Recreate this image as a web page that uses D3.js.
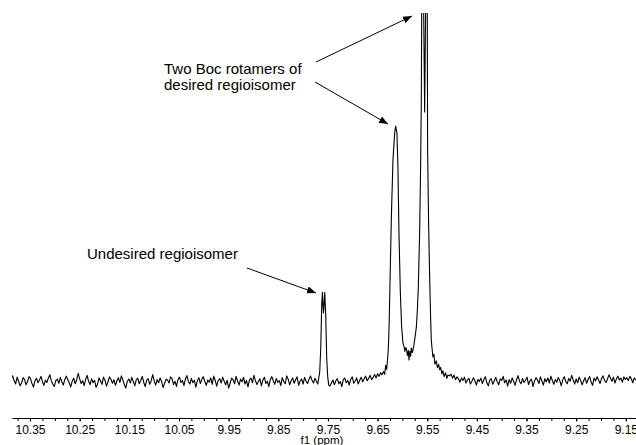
<!DOCTYPE html>
<html>
<head>
<meta charset="utf-8">
<script src="https://cdn.jsdelivr.net/npm/d3@7"></script>
<style>
  body { margin: 0; background: #fff; }
  svg { display: block; font-family: "Liberation Sans", Arial, Helvetica, sans-serif; }
</style>
</head>
<body>
<div id="spectrum"></div>
<script>
// chemical shift axis (ppm), labelled ticks
var majorTicks = [10.35, 10.25, 10.15, 10.05, 9.95, 9.85, 9.75, 9.65, 9.55, 9.45, 9.35, 9.25, 9.15];

var noiseStep = 0.003;
var noiseLeftStart = 10.388;
var noiseLeft = [
  1.2, 2.4, 0.6, -0.8, 1.9, 0.3, -1.5, -0.4, 1.7, 0.9,
  -1.1, 0.2, 2.1, 1.3, -0.6, -2.0, 0.5, 1.4, -0.3, 0.8,
  2.2, 0.1, -1.3, 0.7, -0.2, 1.6, 2.8, 0.4, -0.9, -1.7,
  0.6, 1.1, -0.5, 1.8, 0.2, -1.2, 0.9, 2.3, 1.0, -0.4,
  -1.9, 0.3, 1.5, -0.7, 0.8, 3.4, 1.2, -0.6, 0.5, -1.4,
  1.0, 2.6, 0.2, -1.0, 1.3, -0.3, 0.7, -2.1, -0.8, 1.6,
  0.4, -0.9, 1.9, 0.6, -1.6, 0.1, 2.0, 1.1, -0.5, 0.9,
  -1.3, 0.5, 1.7, -0.2, 2.4, 0.8, -1.1, -2.3, 0.3, 1.2,
  -0.4, 1.8, 0.2, -1.5, 0.9, 1.5, -0.7, 0.6, 2.2, -0.1,
  -1.8, 0.7, 1.3, -0.9, 0.4, 2.9, 0.5, -1.2, 1.0, -0.3,
  1.6, 0.2, -2.2, -0.6, 1.1, 0.8, -0.4, 2.0, 1.4, -1.0,
  0.3, -1.7, 0.9, 1.9, -0.2, 0.6, -1.4, 1.2, 2.5, 0.1,
  -0.8, 1.4, -0.3, 0.7, -2.0, 0.4, 1.7, -0.6, 1.0, 2.1,
  0.2, -1.3, 0.8, -0.1, 1.6, -0.9, 2.3, 0.6, -1.6, 0.5,
  1.3, -0.4, 1.9, 0.3, -1.1, 0.7, -2.4, -0.5, 1.5, 0.9,
  -0.7, 2.2, 0.4, -1.2, 1.1, 0.1, 1.8, -0.8, 0.6, -1.9,
  0.8, 1.5, -0.3, 2.6, 0.5, -1.0, 0.2, 1.3, -1.5, 0.7,
  1.9, -0.6, 0.3, -1.8, 1.0, 2.1, 0.4, -0.9, 1.4, -0.2,
  0.6, -1.4, 1.7, 0.2, -0.7, 2.4, 1.1, -1.1, 0.5, 1.6,
  -0.5, 0.9, 2.0, -1.3, 0.4, 1.2, -0.8, 1.8, 0.3, -0.6,
  1.1, 2.3, 0.7, -0.4, 1.5, 0.2
];
var noiseMidStart = 9.746;
var noiseMid = [
  -1.6, -0.4, 0.8, -1.1, 0.5, 1.3, -0.7, 0.2, -1.8, 0.9,
  1.5, -0.3, 0.6, -1.2, 1.1, 2.0, -0.5, 0.4, 1.6, -0.8,
  0.7, 1.9, 0.1, 1.2, 2.3, 0.5, 1.4, 2.6, 0.9, 1.8,
  2.9, 1.6, 3.2, 2.2, 3.6, 2.8, 4.1
];
var noiseRightStart = 9.505;
var noiseRight = [
  2.4, 3.1, 1.5, 2.7, 0.9, 2.0, 1.2, -0.1, 1.6, 0.6,
  1.9, -0.4, 0.8, 1.4, -0.8, 0.3, 1.7, 0.5, -1.2, 1.0,
  0.2, 1.5, -0.6, 0.9, 2.1, -0.2, -1.5, 0.7, 1.3, -0.9,
  0.4, 1.8, 0.1, -1.1, 1.2, 0.6, 2.2, -0.3, 0.8, -1.6,
  1.0, -0.5, 1.6, 0.3, -1.3, 0.9, 2.5, 0.2, -0.7, 1.4,
  -0.2, 0.7, 1.9, -1.0, 0.5, 1.1, -1.8, 0.3, 1.7, 0.8,
  -0.6, 2.0, 0.4, -1.2, 1.3, 0.1, 1.6, -0.4, 2.3, 0.6,
  -0.9, 1.0, -0.1, 1.8, 0.5, -1.5, 0.9, 2.1, 0.2, -0.7,
  1.4, 0.3, 2.6, 0.8, -0.8, 1.2, -0.3, 1.9, 0.6, -1.1,
  0.5, 1.7, -0.5, 1.0, 2.2, 0.1, -1.3, 1.5, 0.4, 2.0,
  0.9, -0.6, 1.3, 2.4, 0.7, -0.2, 1.1, 2.8, 1.6, 0.3,
  1.9, -0.4, 1.2, 2.3, 0.8, 1.5, -0.1, 2.0, 1.0, 1.7,
  0.6, 2.2, 1.3, -0.3, 1.6, 0.9, 1.4
];

// undesired regioisomer doublet near 9.76 ppm
var smallPpm = [9.7705, 9.7685, 9.7665, 9.7645, 9.7625, 9.7611, 9.7600, 9.7589, 9.7576, 9.7564, 9.7544, 9.7524, 9.7504, 9.7484];
var smallInt = [-0.8, 1.5, 4, 13, 30, 35, 30, 27, 31, 35, 26, 9, 2, -1.2];

// the two Boc rotamers, 9.61 ppm and the doublet at 9.56/9.55 ppm
var bigPpm = [
  9.6357, 9.6337, 9.6317, 9.6297, 9.6281, 9.6265, 9.6250, 9.6222, 9.6190, 9.6156,
  9.6136, 9.6110, 9.6090, 9.6069, 9.6041, 9.6015, 9.5989, 9.5970, 9.5950, 9.5932,
  9.5915, 9.5900, 9.5880, 9.5868, 9.5850, 9.5835, 9.5820, 9.5800, 9.5774, 9.5745,
  9.5719, 9.5699, 9.5679, 9.5653, 9.5633, 9.5619, 9.5599, 9.5552, 9.5506, 9.5492,
  9.5472, 9.5450, 9.5430, 9.5418, 9.5400, 9.5385, 9.5365, 9.5345, 9.5317, 9.5295,
  9.5270, 9.5251, 9.5230, 9.5205, 9.5184, 9.5160, 9.5130, 9.5105, 9.5084
];
var bigInt = [
  3.0, 6.5, 4.9, 9.2, 14, 24, 38.7, 64.5, 86.7, 97.3,
  100, 97.3, 84, 58.2, 34.8, 21.5, 15.2, 14.1, 12.0, 13.5,
  12.6, 10.4, 12.3, 8.6, 12.0, 10.0, 13.3, 11.5, 13.7, 17.5,
  21.5, 28, 37.1, 58.2, 84, 110, 200, 105.5, 200, 90.6,
  62, 40, 24, 16.4, 12.5, 9.8, 10.8, 7.0, 8.2, 5.6,
  6.9, 4.8, 5.7, 3.2, 4.4, 2.1, 3.6, 1.4, 2.7
];

// annotations
var labels = [
  {lines: ["Two Boc rotamers of", "desired regioisomer"], x: 164, y: 74},
  {lines: ["Undesired regioisomer"], x: 87, y: 259}
];
var arrows = [
  {from: [316, 62], to: [412, 16]},
  {from: [315, 82], to: [388, 124]},
  {from: [247, 268], to: [316, 293]}
];

var width = 636, height = 445;

var svg = d3.select("#spectrum")
  .append("svg")
    .attr("width", width)
    .attr("height", height);

var x = d3.scaleLinear()
  .domain([10.3863, 9.1295])
  .range([12, 636]);

var y = d3.scaleLinear()
  .domain([0, 100])
  .range([382, 126]);

// build the trace from the pieces
function noisePoints(start, vals) {
  return vals.map(function(v, i) { return [start - i * noiseStep, v]; });
}
var trace = []
  .concat(noisePoints(noiseLeftStart, noiseLeft))
  .concat(smallPpm.map(function(p, i) { return [p, smallInt[i]]; }))
  .concat(noisePoints(noiseMidStart, noiseMid))
  .concat(bigPpm.map(function(p, i) { return [p, bigInt[i]]; }))
  .concat(noisePoints(noiseRightStart, noiseRight));

svg.append("defs").append("clipPath")
    .attr("id", "plotclip")
  .append("rect")
    .attr("x", 12)
    .attr("y", 13)
    .attr("width", 624)
    .attr("height", 400);

svg.append("path")
    .datum(trace)
    .attr("clip-path", "url(#plotclip)")
    .attr("fill", "none")
    .attr("stroke", "#000")
    .attr("stroke-width", 1.1)
    .attr("stroke-linejoin", "round")
    .attr("d", d3.line()
      .x(function(d) { return x(d[0]); })
      .y(function(d) { return y(d[1]); }));

// minor ticks every 0.025 ppm
var minorTicks = d3.range(0, 51).map(function(i) { return +(10.375 - i * 0.025).toFixed(3); })
  .filter(function(v) { return v >= 9.131; });

var axisY = 418;
svg.append("g")
    .attr("transform", "translate(0," + axisY + ")")
    .call(d3.axisBottom(x).tickValues(minorTicks).tickSize(3).tickSizeOuter(0).tickFormat(""))
    .call(function(g) { g.selectAll("line").attr("stroke", "#000"); g.select(".domain").attr("stroke", "#000"); });

svg.append("g")
    .attr("transform", "translate(0," + axisY + ")")
    .call(d3.axisBottom(x).tickValues(majorTicks).tickSize(3.5).tickSizeOuter(0).tickPadding(4)
      .tickFormat(d3.format(".2f")))
    .call(function(g) {
      g.select(".domain").remove();
      g.selectAll("line").attr("stroke", "#000");
      g.selectAll("text")
        .attr("fill", "#000")
        .style("font-family", "'Liberation Sans', Arial, Helvetica, sans-serif")
        .style("font-size", "12px");
    });

svg.append("text")
    .attr("x", 322)
    .attr("y", 444)
    .attr("text-anchor", "middle")
    .style("font-size", "11.5px")
    .text("f1 (ppm)");

// annotation text
labels.forEach(function(l) {
  l.lines.forEach(function(t, i) {
    svg.append("text")
        .attr("x", l.x)
        .attr("y", l.y + i * 16)
        .style("font-size", "15px")
        .attr("fill", "#000")
        .text(t);
  });
});

// arrows with filled heads
svg.select("defs").append("marker")
    .attr("id", "head")
    .attr("viewBox", "0 0 10 10")
    .attr("refX", 10)
    .attr("refY", 5)
    .attr("markerWidth", 9)
    .attr("markerHeight", 9)
    .attr("markerUnits", "userSpaceOnUse")
    .attr("orient", "auto")
  .append("path")
    .attr("d", "M0,1 L10,5 L0,9 Z")
    .attr("fill", "#000");

svg.selectAll(".arrow")
  .data(arrows)
  .enter().append("line")
    .attr("class", "arrow")
    .attr("x1", function(d) { return d.from[0]; })
    .attr("y1", function(d) { return d.from[1]; })
    .attr("x2", function(d) { return d.to[0]; })
    .attr("y2", function(d) { return d.to[1]; })
    .attr("stroke", "#000")
    .attr("stroke-width", 1)
    .attr("marker-end", "url(#head)");
</script>
</body>
</html>
